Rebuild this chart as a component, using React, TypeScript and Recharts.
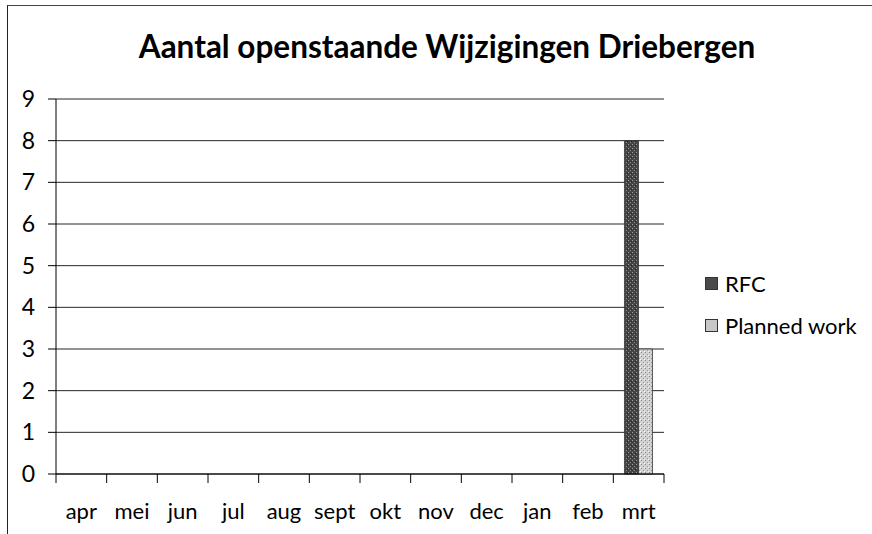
import { Bar, BarChart, CartesianGrid, XAxis, YAxis } from "recharts";

const months = ["apr", "mei", "jun", "jul", "aug", "sept", "okt", "nov", "dec", "jan", "feb", "mrt"];
const rfc = [0, 0, 0, 0, 0, 0, 0, 0, 0, 0, 0, 8];
const plannedWork = [0, 0, 0, 0, 0, 0, 0, 0, 0, 0, 0, 3];
const yTicks = [0, 1, 2, 3, 4, 5, 6, 7, 8, 9];

const series = [
  { key: "rfc", name: "RFC", color: "url(#rfcTex)", base: "#4a4a4a" },
  { key: "planned", name: "Planned work", color: "url(#plannedTex)", base: "#c8c8c8" },
];

const data = months.map((month, i) => ({ month, rfc: rfc[i], planned: plannedWork[i] }));

const font = "Lato, 'Open Sans', sans-serif";

function MonthTick(props: any) {
  const { x, y, payload, index } = props;
  const half = payload.offset ?? 25.3;
  return (
    <g>
      <line x1={x - half} x2={x - half} y1={y} y2={y + 9} stroke="#000" />
      {index === months.length - 1 && <line x1={x + half} x2={x + half} y1={y} y2={y + 9} stroke="#000" />}
      <text x={x} y={y + 45} textAnchor="middle" fontSize={22} fontFamily={font} fill="#000">
        {payload.value}
      </text>
    </g>
  );
}

export default function App() {
  return (
    <div style={{ position: "absolute", left: 0, top: 0, width: 872, height: 534, background: "#fff", overflow: "hidden" }}>
      {/* speckled fills, like the scanned original */}
      <svg width={0} height={0} style={{ position: "absolute" }}>
        <defs>
          <pattern id="rfcTex" width={4} height={4} patternUnits="userSpaceOnUse">
            <rect width={4} height={4} fill="#444" />
            <rect x={0} y={0} width={1} height={1} fill="#a0a0a0" />
            <rect x={2} y={2} width={1} height={1} fill="#909090" />
            <rect x={3} y={1} width={1} height={1} fill="#222" />
          </pattern>
          <pattern id="plannedTex" width={4} height={4} patternUnits="userSpaceOnUse">
            <rect width={4} height={4} fill="#d2d2d2" />
            <rect x={1} y={0} width={1} height={1} fill="#888" />
            <rect x={3} y={2} width={1} height={1} fill="#999" />
            <rect x={0} y={3} width={1} height={1} fill="#f4f4f4" />
          </pattern>
        </defs>
      </svg>
      <div style={{ position: "absolute", left: 7, top: 5, width: 880, height: 540, borderLeft: "1.5px solid #222", borderTop: "1.5px solid #444" }} />
      <div
        style={{
          position: "absolute",
          left: 0,
          width: 894,
          top: 28,
          textAlign: "center",
          fontFamily: font,
          fontWeight: 700,
          fontSize: 31.5,
          lineHeight: "36px",
          color: "#000",
        }}
      >
        Aantal openstaande Wijzigingen Driebergen
      </div>
      <BarChart
        width={872}
        height={534}
        data={data}
        margin={{ top: 99, right: 208, bottom: 10, left: 0 }}
        barCategoryGap="22%"
        barGap={0}
        style={{ position: "absolute", left: 0, top: 0 }}
      >
        <CartesianGrid horizontal vertical={false} stroke="#000" strokeOpacity={0.85} />
        <XAxis
          dataKey="month"
          height={50}
          axisLine={{ stroke: "#000" }}
          tickLine={false}
          tickSize={0}
          tickMargin={0}
          interval={0}
          tick={<MonthTick />}
        />
        <YAxis
          width={56}
          domain={[0, 9]}
          ticks={yTicks}
          interval={0}
          axisLine={{ stroke: "#000" }}
          tickLine={{ stroke: "#000" }}
          tickSize={8}
          tickMargin={13}
          tick={{ fill: "#000", fontSize: 23, fontFamily: font }}
        />
        {series.map((s) => (
          <Bar
            key={s.key}
            dataKey={s.key}
            name={s.name}
            fill={s.color}
            stroke="#333"
            strokeWidth={0.8}
            isAnimationActive={false}
          />
        ))}
      </BarChart>
      {series.map((s, i) => (
        <div
          key={s.key}
          style={{
            position: "absolute",
            left: 705,
            top: 268 + i * 42,
            height: 30,
            display: "flex",
            alignItems: "center",
            fontFamily: font,
            fontSize: 22,
            color: "#000",
          }}
        >
          <span style={{ width: 11, height: 11, background: s.base, border: "1px solid #333", marginRight: 7 }} />
          {s.name}
        </div>
      ))}
    </div>
  );
}
